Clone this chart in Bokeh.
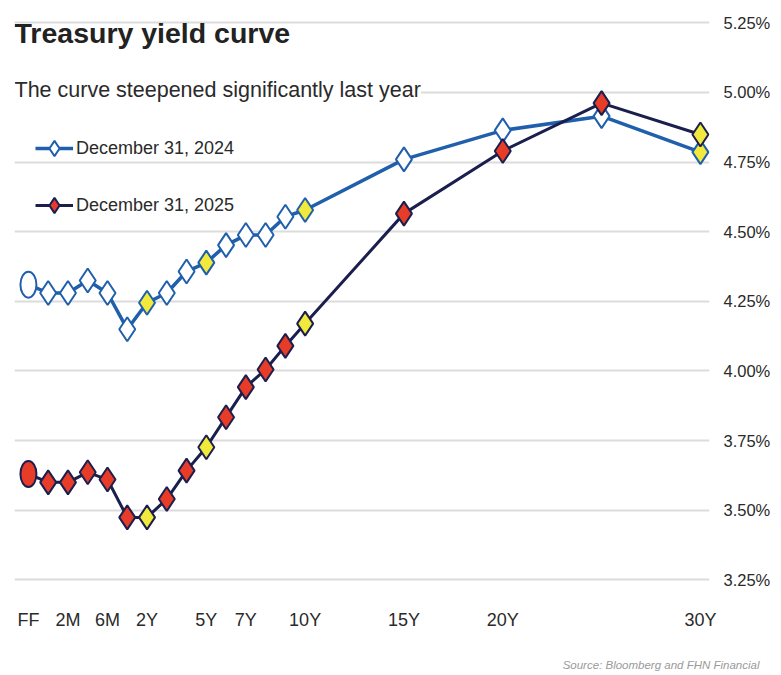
from bokeh.plotting import figure
from bokeh.models import (ColumnDataSource, FixedTicker, Label, Legend, LegendItem,
                          PrintfTickFormatter, Range1d, Title)
from bokeh.embed import file_html
from bokeh.resources import INLINE

# ---------------- data ----------------
tenors = ["FF", "1M", "2M", "3M", "6M", "1Y", "2Y", "3Y", "4Y", "5Y", "6Y", "7Y",
          "8Y", "9Y", "10Y", "15Y", "20Y", "25Y", "30Y"]
tenor_years = [0, 1/12, 2/12, 3/12, 0.5, 1, 2, 3, 4, 5, 6, 7, 8, 9, 10, 15, 20, 25, 30]
yield_2024 = [4.31, 4.28, 4.28, 4.325, 4.28, 4.15, 4.245, 4.28, 4.357, 4.389, 4.452,
              4.488, 4.488, 4.554, 4.578, 4.76, 4.864, 4.915, 4.786]
yield_2025 = [3.63, 3.60, 3.60, 3.636, 3.61, 3.474, 3.474, 3.54, 3.642, 3.726, 3.834,
              3.942, 4.005, 4.09, 4.17, 4.565, 4.79, 4.962, 4.849]
highlighted = ["2Y", "5Y", "10Y", "30Y"]
tick_tenors = ["FF", "2M", "6M", "2Y", "5Y", "7Y", "10Y", "15Y", "20Y", "30Y"]
y_ticks = [3.25, 3.50, 3.75, 4.00, 4.25, 4.50, 4.75, 5.00, 5.25]
series_labels = ["December 31, 2024", "December 31, 2025"]
title_text = "Treasury yield curve"
subtitle_text = "The curve steepened significantly last year"
source_text = "Source: Bloomberg and FHN Financial"

# x scale: evenly spaced up to 10Y, then linear in years
i10 = tenors.index("10Y")
xpos = [i if yrs <= 10 else i10 + (yrs - 10) for i, yrs in enumerate(tenor_years)]

FONT = "Liberation Sans"
BLUE = "#1f5fab"
NAVY = "#1b1f4e"
RED = "#e73c28"
YELLOW = "#f1e93c"

p = figure(width=773, height=675, output_backend="svg", toolbar_location=None,
           x_range=Range1d(-0.705, 34.46), y_range=Range1d(3.2044, 5.2801),
           y_axis_location="right", min_border_left=14, min_border_top=14,
           min_border_bottom=83, min_border_right=61)
p.outline_line_color = None
p.background_fill_color = "white"
p.border_fill_color = "white"
p.xgrid.visible = False
p.ygrid.grid_line_color = "#dcdcdc"
p.ygrid.grid_line_width = 2

# axes
p.xaxis.ticker = FixedTicker(ticks=[xpos[tenors.index(t)] for t in tick_tenors])
p.xaxis.major_label_overrides = {xpos[tenors.index(t)]: t for t in tick_tenors}
p.yaxis.ticker = FixedTicker(ticks=y_ticks)
p.yaxis.formatter = PrintfTickFormatter(format="%.2f%%")
for ax in (p.xaxis[0], p.yaxis[0]):
    ax.axis_line_color = None
    ax.major_tick_line_color = None
    ax.minor_tick_line_color = None
    ax.major_tick_out = 0
    ax.major_tick_in = 0
    ax.minor_tick_out = 0
    ax.major_label_text_font = FONT
    ax.major_label_text_color = "#2a2a2a"
p.xaxis.major_label_text_font_size = "18px"
p.xaxis.major_label_standoff = 17
p.yaxis.major_label_text_font_size = "16.5px"
p.yaxis.major_label_standoff = 14

# data sources
def fills(base):
    return [YELLOW if t in highlighted else base for t in tenors[1:]]

src24 = ColumnDataSource(dict(x=xpos[1:], y=yield_2024[1:], fill=fills("white")))
src25 = ColumnDataSource(dict(x=xpos[1:], y=yield_2025[1:], fill=fills(RED)))

l24 = p.line(xpos, yield_2024, line_color=BLUE, line_width=3.5)
l25 = p.line(xpos, yield_2025, line_color=NAVY, line_width=3)

e24 = p.ellipse(x=xpos[0], y=yield_2024[0], width=16, height=26, width_units="screen",
                height_units="screen", fill_color="white", line_color=BLUE, line_width=2)
e25 = p.ellipse(x=xpos[0], y=yield_2025[0], width=16, height=26, width_units="screen",
                height_units="screen", fill_color=RED, line_color=NAVY, line_width=2)

s24 = p.scatter("x", "y", source=src24, marker="diamond", size=24, fill_color="fill",
                line_color=BLUE, line_width=2)
s25 = p.scatter("x", "y", source=src25, marker="diamond", size=24, fill_color="fill",
                line_color=NAVY, line_width=2)

legend = Legend(items=[LegendItem(label=series_labels[0], renderers=[l24, s24], index=0),
                       LegendItem(label=series_labels[1], renderers=[l25, s25], index=0)],
                location=(21, 367), glyph_width=38, glyph_height=40, spacing=17,
                padding=0, margin=0, label_standoff=3, label_text_font=FONT,
                label_text_font_size="18px", label_text_color="#2a2a2a",
                background_fill_alpha=0, border_line_alpha=0)
p.add_layout(legend)

# texts
p.add_layout(Label(x=-0.705, y=5.2137, text=title_text, text_font=FONT,
                   text_font_size="28.5px", text_font_style="bold", text_color="#222222",
                   text_baseline="alphabetic"))
p.add_layout(Label(x=-0.705, y=5.0083, text=subtitle_text, text_font=FONT,
                   text_font_size="21.5px", text_color="#2a2a2a", text_baseline="alphabetic",
                   background_fill_color="white"))
# source note sits low under the tick labels: two blank leading lines push it down
p.add_layout(Title(text="\n\n" + source_text, text_font=FONT, text_font_size="11.5px",
                   text_font_style="italic", text_color="#9a9a9a", align="right",
                   offset=-50, standoff=0), "below")

open("out.html", "w").write(file_html(p, INLINE))
